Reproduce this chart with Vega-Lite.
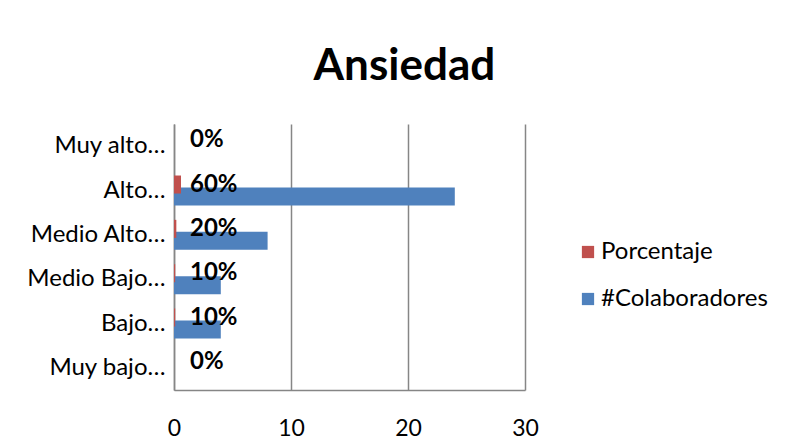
{
  "$schema": "https://vega.github.io/schema/vega-lite/v6.json",
  "width": 351,
  "height": 266,
  "autosize": {"type": "none"},
  "padding": {"left": 174, "top": 124, "right": 265, "bottom": 57},
  "background": "white",
  "title": {
    "text": "Ansiedad",
    "fontSize": 44,
    "fontWeight": "bold",
    "font": "Lato",
    "color": "black",
    "anchor": "middle",
    "frame": "bounds",
    "baseline": "alphabetic",
    "offset": 0,
    "dx": 7
  },
  "data": {
    "values": [
      {"cat": "Muy alto…", "serie": "#Colaboradores", "valor": 0, "etiqueta": ""},
      {"cat": "Alto…", "serie": "#Colaboradores", "valor": 24, "etiqueta": ""},
      {"cat": "Medio Alto…", "serie": "#Colaboradores", "valor": 8, "etiqueta": ""},
      {"cat": "Medio Bajo…", "serie": "#Colaboradores", "valor": 4, "etiqueta": ""},
      {"cat": "Bajo…", "serie": "#Colaboradores", "valor": 4, "etiqueta": ""},
      {"cat": "Muy bajo…", "serie": "#Colaboradores", "valor": 0, "etiqueta": ""},
      {"cat": "Muy alto…", "serie": "Porcentaje", "valor": 0, "etiqueta": "0%"},
      {"cat": "Alto…", "serie": "Porcentaje", "valor": 0.6, "etiqueta": "60%"},
      {"cat": "Medio Alto…", "serie": "Porcentaje", "valor": 0.2, "etiqueta": "20%"},
      {"cat": "Medio Bajo…", "serie": "Porcentaje", "valor": 0.1, "etiqueta": "10%"},
      {"cat": "Bajo…", "serie": "Porcentaje", "valor": 0.1, "etiqueta": "10%"},
      {"cat": "Muy bajo…", "serie": "Porcentaje", "valor": 0, "etiqueta": "0%"}
    ]
  },
  "encoding": {
    "y": {
      "field": "cat",
      "type": "nominal",
      "sort": ["Muy alto…", "Alto…", "Medio Alto…", "Medio Bajo…", "Bajo…", "Muy bajo…"],
      "scale": {"paddingInner": 0.46, "paddingOuter": 0.23},
      "axis": {
        "title": null,
        "ticks": false,
        "labelFontSize": 24,
        "labelFont": "Lato",
        "labelColor": "black",
        "labelPadding": 9,
        "labelLimit": 300,
        "domainColor": "#868686",
        "domainWidth": 1.5,
        "grid": false
      }
    },
    "yOffset": {
      "field": "serie",
      "type": "nominal",
      "sort": ["Porcentaje", "#Colaboradores"],
      "scale": {"domain": ["Porcentaje", "#Colaboradores"], "paddingInner": 0, "paddingOuter": 0}
    }
  },
  "layer": [
    {
      "mark": {"type": "bar", "size": 18},
      "encoding": {
        "x": {
          "field": "valor",
          "type": "quantitative",
          "scale": {"domain": [0, 30], "nice": false},
          "axis": {
            "title": null,
            "values": [0, 10, 20, 30],
            "grid": true,
            "gridColor": "#868686",
            "gridWidth": 1.5,
            "ticks": false,
            "domainColor": "#868686",
            "domainWidth": 1.5,
            "labelFontSize": 23,
            "labelFont": "Lato",
            "labelColor": "black",
            "labelPadding": 27,
            "labelFlush": false
          }
        },
        "color": {
          "field": "serie",
          "type": "nominal",
          "scale": {"domain": ["Porcentaje", "#Colaboradores"], "range": ["#C0504D", "#4F81BD"]},
          "legend": {
            "title": null,
            "orient": "none",
            "legendX": 402,
            "legendY": 116,
            "symbolType": "square",
            "symbolSize": 150,
            "symbolStrokeWidth": 0,
            "labelFontSize": 24,
            "labelFont": "Lato",
            "labelColor": "black",
            "labelOffset": 1,
            "labelLimit": 300,
            "rowPadding": 23
          }
        }
      }
    },
    {
      "transform": [{"filter": "datum.serie === 'Porcentaje'"}],
      "mark": {"type": "text", "align": "left", "baseline": "middle", "dx": 16, "fontSize": 24, "fontWeight": "bold", "font": "Lato", "color": "black"},
      "encoding": {
        "x": {"datum": 0, "type": "quantitative"},
        "text": {"field": "etiqueta"}
      }
    }
  ],
  "config": {
    "view": {"stroke": null}
  }
}
